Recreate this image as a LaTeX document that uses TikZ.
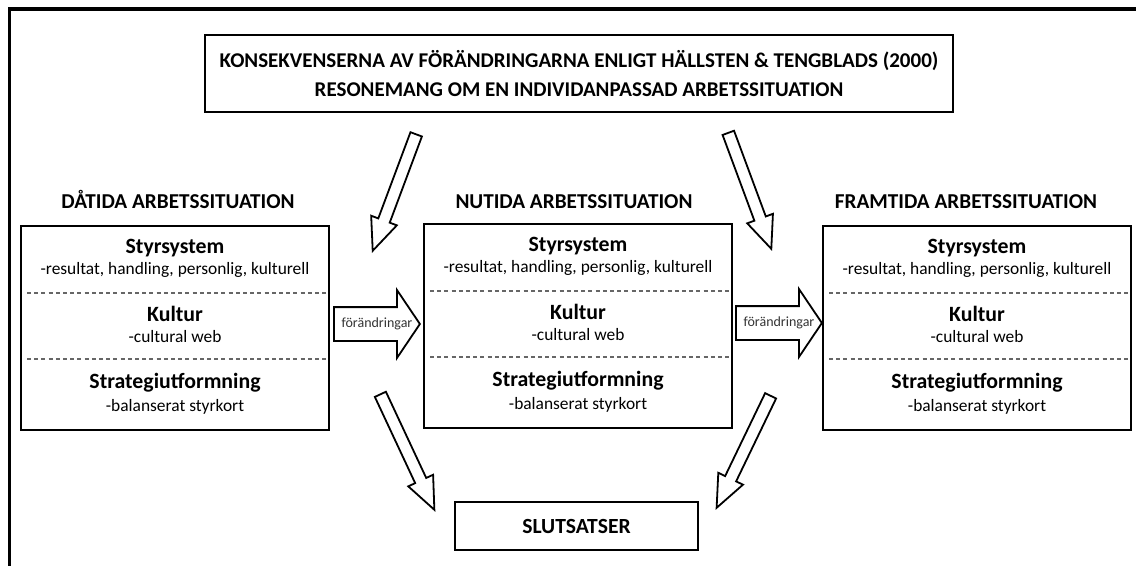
\documentclass[tikz,border=0pt]{standalone}
\usepackage{fontspec}
\setmainfont{Carlito}
\usetikzlibrary{positioning,calc,shapes.arrows}

\tikzset{
  ram/.style={line width=1.7pt},
  rubrikbox/.style={draw,line width=1.4pt,minimum width=374pt,minimum height=38.5pt,align=center,
    font=\fontsize{10.5}{14.25}\selectfont\bfseries},
  slutbox/.style={draw,line width=1.4pt,minimum width=121.5pt,minimum height=24pt,
    font=\fontsize{10.8}{12}\selectfont\bfseries},
  sitbox/.style={draw,line width=1pt,minimum width=154pt,minimum height=102pt,inner sep=0pt},
  rubrik/.style={anchor=base,font=\fontsize{10.6}{12}\selectfont\bfseries},
  delrubrik/.style={anchor=base,font=\fontsize{10.9}{12}\selectfont\bfseries},
  deltext/.style={anchor=base,font=\fontsize{8.7}{10}\selectfont},
  liten/.style={font=\fontsize{7}{8}\selectfont,text=black!80},
  skiljelinje/.style={draw=black!60,line width=0.6pt,dash pattern=on 2pt off 1.6pt},
  sidopil/.style={single arrow,draw,fill=white,line width=0.9pt,inner xsep=0pt,inner ysep=8pt,
    single arrow head extend=8.5pt,single arrow tip angle=112,minimum height=43pt},
  snedpil/.style={single arrow,draw,fill=white,line width=0.9pt,inner xsep=0pt,inner ysep=2.6pt,
    single arrow head extend=3.8pt,single arrow tip angle=46}
}

% blockpil fran en punkt till en annan
\newcommand{\blockpil}[3]{%
  \path let \p1=($(#3)-(#2)$), \n1={veclen(\x1,\y1)}, \n2={atan2(\y1,\x1)} in
    node[snedpil,minimum height=\n1,rotate=\n2,anchor=tail] (#1) at (#2) {};}

\begin{document}
\begin{tikzpicture}[x=0.5pt,y=-0.5pt]
\useasboundingbox (0,0) rectangle (1136,568);
\draw[ram] (1136,9) -- (9.5,9) -- (9.5,566);

\node[rubrikbox] (kons) at (579,73.5)
  {KONSEKVENSERNA AV FÖRÄNDRINGARNA ENLIGT HÄLLSTEN \& TENGBLADS (2000)\\
   RESONEMANG OM EN INDIVIDANPASSAD ARBETSSITUATION};

% de tre arbetssituationerna
\node[sitbox] (dat) at (175,328) {};
\node[sitbox] (nut) at (578,326) {};
\node[sitbox] (fram) at (977,328) {};
\node[rubrik] (dat-rubrik) at (178,208) {DÅTIDA ARBETSSITUATION};
\node[rubrik] (nut-rubrik) at (574,208) {NUTIDA ARBETSSITUATION};
\node[rubrik] (fram-rubrik) at (966,208) {FRAMTIDA ARBETSSITUATION};

\foreach \b in {dat,nut,fram}{
  \node[delrubrik] (\b-styr) at ($(\b.north)+(0,28)$) {Styrsystem};
  \node[deltext] (\b-styrtext) at ($(\b.north)+(0,49)$) {-resultat, handling, personlig, kulturell};
  \node[delrubrik] (\b-kultur) at ($(\b.north)+(0,96)$) {Kultur};
  \node[deltext] (\b-kulturtext) at ($(\b.north)+(0,117)$) {-cultural web};
  \node[delrubrik] (\b-strat) at ($(\b.north)+(0,163)$) {Strategiutformning};
  \node[deltext] (\b-strattext) at ($(\b.north)+(0,186)$) {-balanserat styrkort};
  \draw[skiljelinje] ($(\b.north west)+(7,68)$) -- ($(\b.north east)+(-3,68)$);
  \draw[skiljelinje] ($(\b.north west)+(7,134)$) -- ($(\b.north east)+(-3,134)$);
}

\node[slutbox] (slut) at (576.5,526) {SLUTSATSER};

% forandringar mellan perioderna
\node[sidopil,anchor=tail] (f1) at (333,324) {};
\node[sidopil,anchor=tail] (f2) at (735,323) {};
\node[liten] (f1-text) at ($(f1.tail)!0.5!(f1.tip)$) {förändringar};
\node[liten] (f2-text) at ($(f2.tail)!0.5!(f2.tip)$) {förändringar};

% sneda pilar
\coordinate (p1) at (416.5,133.5); \coordinate (q1) at (373,250);
\coordinate (p2) at (728,132);     \coordinate (q2) at (771,248);
\coordinate (p3) at (380,393.5);   \coordinate (q3) at (434,509);
\coordinate (p4) at (771,395);     \coordinate (q4) at (717,507);
\blockpil{a1}{p1}{q1}
\blockpil{a2}{p2}{q2}
\blockpil{a3}{p3}{q3}
\blockpil{a4}{p4}{q4}
\end{tikzpicture}
\end{document}
